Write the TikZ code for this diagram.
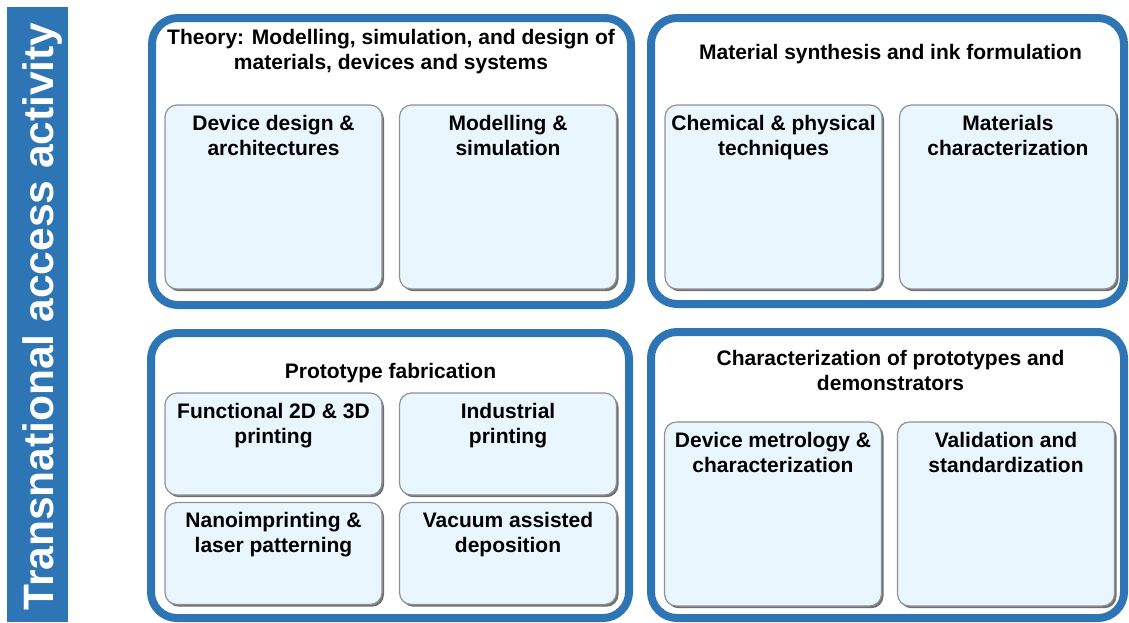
\documentclass[tikz,border=0pt]{standalone}
\usepackage{fontspec}
\setmainfont{Liberation Sans}
\usetikzlibrary{shadows}
\definecolor{frameblue}{RGB}{46,117,182}
\definecolor{cellfill}{RGB}{234,246,253}
\definecolor{celledge}{RGB}{140,146,152}

\begin{document}
\begin{tikzpicture}[x=1pt,y=-1pt,
  panel/.style={draw=frameblue, line width=8pt, rounded corners=26pt, inner sep=0pt},
  cell/.style={draw=celledge, line width=1.2pt, fill=cellfill, rounded corners=12pt,
    inner sep=0pt, minimum width=217pt,
    drop shadow={shadow xshift=2pt, shadow yshift=-2.2pt, fill=black!80, opacity=0.7}},
  bigcell/.style={cell, minimum height=184pt},
  smallcell/.style={cell, minimum height=102pt},
  % the base anchor of a multi-line node sits on its last line
  heading/.style={anchor=base, align=center, inner sep=0pt,
    font=\bfseries\fontsize{21}{25}\selectfont},
  celltext/.style={heading, yshift=-51pt},
  sidebar/.style={fill=frameblue, draw=none, inner sep=0pt},
  sidetext/.style={anchor=base, rotate=90, text=white, inner sep=0pt,
    font=\bfseries\fontsize{42.5}{50}\selectfont}
]
\useasboundingbox (0,0) rectangle (1129,622);

% side banner
\node[sidebar, minimum width=61pt, minimum height=615pt] (bar) at (37.5,314.5) {};
\node[sidetext] (bartext) at (53,316.5) {Transnational access activity};

% four panels
\node[panel, minimum width=479pt, minimum height=287pt] (theory) at (391.5,161.5) {};
\node[panel, minimum width=473pt, minimum height=286pt] (synth)  at (887.5,161) {};
\node[panel, minimum width=478pt, minimum height=285pt] (proto)  at (390,475.5) {};
\node[panel, minimum width=473pt, minimum height=286pt] (charac) at (887.5,475) {};

% panel headings
\node[heading] (theoryhead) at (391,69) {Theory: Modelling, simulation, and design of\\materials, devices and systems};
\node[heading] (synthhead) at (890.5,59) {Material synthesis and ink formulation};
\node[heading] (protohead) at (390.5,378) {Prototype fabrication};
\node[heading] (charachead) at (890.5,390.5) {Characterization of prototypes and\\demonstrators};

% theory cells
\node[bigcell] (design) at (273.5,197) {};
\node[bigcell] (model) at (508,197) {};
\node[celltext] (designtxt) at (design.north) {Device design \&\\architectures};
\node[celltext] (modeltxt) at (model.north) {Modelling \&\\simulation};

% synthesis cells
\node[bigcell] (chem) at (773.5,197) {};
\node[bigcell] (matchar) at (1008,197) {};
\node[celltext] (chemtxt) at (chem.north) {Chemical \& physical\\techniques};
\node[celltext] (matchartxt) at (matchar.north) {Materials\\characterization};

% fabrication cells
\node[smallcell] (print) at (273.5,444) {};
\node[smallcell] (indprint) at (508,444) {};
\node[smallcell] (nano) at (273.5,553.5) {};
\node[smallcell] (vacuum) at (508,553.5) {};
\node[celltext] (printtxt) at (print.north) {Functional 2D \& 3D\\printing};
\node[celltext] (indprinttxt) at (indprint.north) {Industrial\\printing};
\node[celltext] (nanotxt) at (nano.north) {Nanoimprinting \&\\laser patterning};
\node[celltext] (vacuumtxt) at (vacuum.north) {Vacuum assisted\\deposition};

% characterization cells
\node[bigcell] (metro) at (773,514) {};
\node[bigcell] (valid) at (1006,514) {};
\node[celltext] (metrotxt) at (metro.north) {Device metrology \&\\characterization};
\node[celltext] (validtxt) at (valid.north) {Validation and\\standardization};
\end{tikzpicture}
\end{document}
